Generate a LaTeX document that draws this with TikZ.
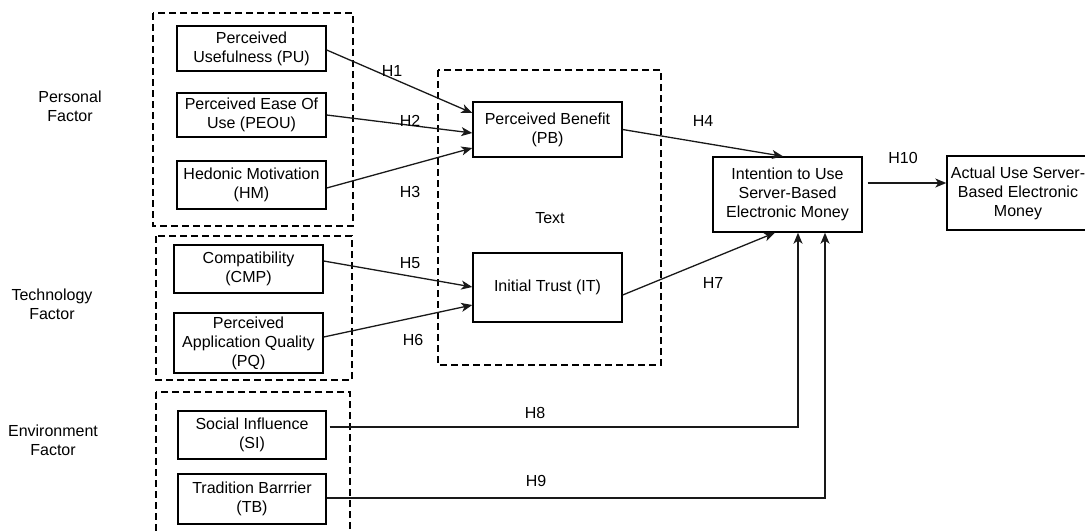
\documentclass[tikz,border=0pt]{standalone}
\usepackage{fontspec}
\setmainfont{Liberation Sans}
\usetikzlibrary{arrows.meta,calc}
\begin{document}
\begin{tikzpicture}[x=1pt,y=-1pt,
  every node/.style={font=\fontsize{16}{19}\selectfont, text=black},
  box/.style={draw=black, line width=1.4pt, rectangle, align=center, inner sep=0pt, minimum width=149pt},
  grp/.style={draw=black, line width=1.5pt, dash pattern=on 7pt off 4pt},
  arr/.style={draw=black!90, line width=1.3pt, -{Stealth[length=11pt,width=9pt,inset=3pt]}},
  lbl/.style={inner sep=0pt}
]
\clip (0,0) rectangle (1085,531);
\fill[white] (0,0) rectangle (1085,531);
% group frames
\draw[grp] (153,13) rectangle (353,226);
\draw[grp] (438,70) rectangle (661,365);
\draw[grp] (156,236) rectangle (352,380);
\draw[grp] (156,392) rectangle (350,545);
% factor labels
\node[lbl, align=center] (pf) at (70,106) {Personal\\Factor};
\node[lbl, align=center] (tf) at (52,304) {Technology\\Factor};
\node[lbl, align=center] (ef) at (53,440) {Environment\\Factor};
% boxes
\node[box, minimum height=45pt] (PU) at (251.5,48.5) {Perceived\\Usefulness (PU)};
\node[box, minimum height=44pt] (PEOU) at (251.5,115) {Perceived Ease Of\\Use (PEOU)};
\node[box, minimum height=48pt] (HM) at (251.5,185) {Hedonic Motivation\\(HM)};
\node[box, minimum height=48pt] (CMP) at (248.5,269) {Compatibility\\(CMP)};
\node[box, minimum height=60pt] (PQ) at (248.5,343) {Perceived\\Application Quality\\(PQ)};
\node[box, minimum width=148pt, minimum height=48pt] (SI) at (252,435) {Social Influence\\(SI)};
\node[box, minimum width=148pt, minimum height=50pt] (TB) at (252,499) {Tradition Barrrier\\(TB)};
\node[box, minimum height=55pt] (PB) at (547.5,129.5) {Perceived Benefit\\(PB)};
\node[box, minimum height=69pt] (IT) at (547.5,287.5) {Initial Trust (IT)};
\node[box, minimum height=75pt] (INT) at (787.5,194.5) {Intention to Use\\Server-Based\\Electronic Money};
\node[box, minimum width=142pt, minimum height=74pt] (ACT) at (1018,193) {Actual Use Server-\\Based Electronic\\Money};
\node[lbl] (txt) at (550,218) {Text};
% connectors
\draw[arr] ($(PU.east)+(0,1.5)$) -- ($(PB.west)+(0,-16.5)$);
\draw[arr] (PEOU.east) -- ($(PB.west)+(0,3.5)$);
\draw[arr] ($(HM.east)+(0,3)$) -- ($(PB.west)+(0,18.5)$);
\draw[arr] (PB.east) -- ($(INT.north)+(-4.5,0)$);
\draw[arr] ($(CMP.east)+(0,-8)$) -- ($(IT.west)+(0,-0.5)$);
\draw[arr] ($(PQ.east)+(0,-6)$) -- ($(IT.west)+(0,17.5)$);
\draw[arr] ($(IT.east)+(0,7.5)$) -- ($(INT.south)+(-12.5,0)$);
\draw[arr] ($(SI.east)+(3,-8)$) -| ($(INT.south)+(10.5,0)$);
\draw[arr] ($(TB.east)+(0,-1)$) -| ($(INT.south)+(37.5,0)$);
\draw[arr] ($(INT.east)+(5,-11.5)$) -- ($(ACT.west)+(0,-10)$);
% hypothesis labels
\node[lbl] (h1) at (392,71) {H1};
\node[lbl] (h2) at (410,121) {H2};
\node[lbl] (h3) at (410,192) {H3};
\node[lbl] (h4) at (703,121) {H4};
\node[lbl] (h5) at (410,263) {H5};
\node[lbl] (h6) at (413,340) {H6};
\node[lbl] (h7) at (713,283) {H7};
\node[lbl] (h8) at (535,413) {H8};
\node[lbl] (h9) at (536,481) {H9};
\node[lbl] (h10) at (903,158) {H10};
\end{tikzpicture}
\end{document}
